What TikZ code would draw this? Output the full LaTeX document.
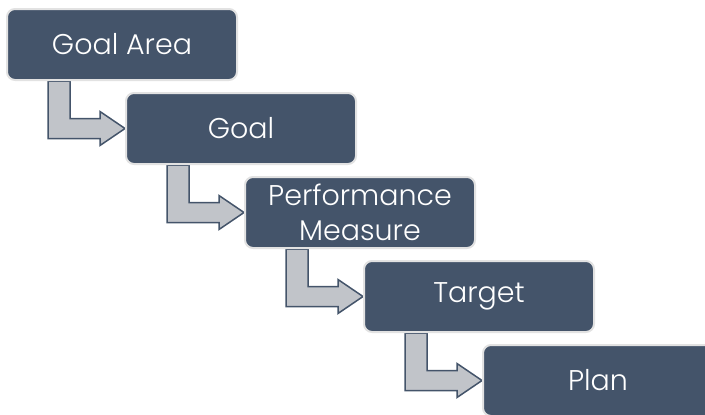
\documentclass[tikz,border=0pt]{standalone}
\usepackage{fontspec}
\setmainfont{Poppins}[UprightFont={* Light}]
\usetikzlibrary{positioning,calc,backgrounds}
\definecolor{slate}{HTML}{44546A}
\definecolor{arrowgray}{HTML}{C1C4C9}
\definecolor{rimgray}{HTML}{E2E2E2}
\tikzset{
  levelbox/.style={draw=rimgray, line width=2pt, fill=slate, rounded corners=8pt,
    minimum width=230pt, minimum height=71pt, inner sep=0pt, align=center,
    text=white, font=\fontsize{28.5}{35}\selectfont},
  bentarrow/.style={draw=slate, fill=arrowgray, line width=1.5pt, line join=miter}
}
\begin{document}
\begin{tikzpicture}[x=1pt,y=-1pt]
\useasboundingbox (0,0) rectangle (705,415);
% the five levels, one step down and right each time
\foreach \name [count=\i from 0] in {Goal Area, Goal, Performance\\Measure, Target, Plan} {
  \node[levelbox] (lvl\i) at ({122+119*\i},{44.5+84*\i}) {\name};
}
% bent arrows from each level to the next
\begin{pgfonlayer}{background}
\foreach \i/\j in {0/1,1/2,2/3,3/4} {
  \draw[bentarrow] ($(lvl\i.south west)+(42,0)$) |- ($(lvl\j.west)+(-25,10)$)
    -- ++(0,7) -- (lvl\j.west) -- ($(lvl\j.west)+(-25,-17)$) -- ++(0,7)
    -| ($(lvl\i.south west)+(64,0)$) -- cycle;
}
\end{pgfonlayer}
\end{tikzpicture}
\end{document}
